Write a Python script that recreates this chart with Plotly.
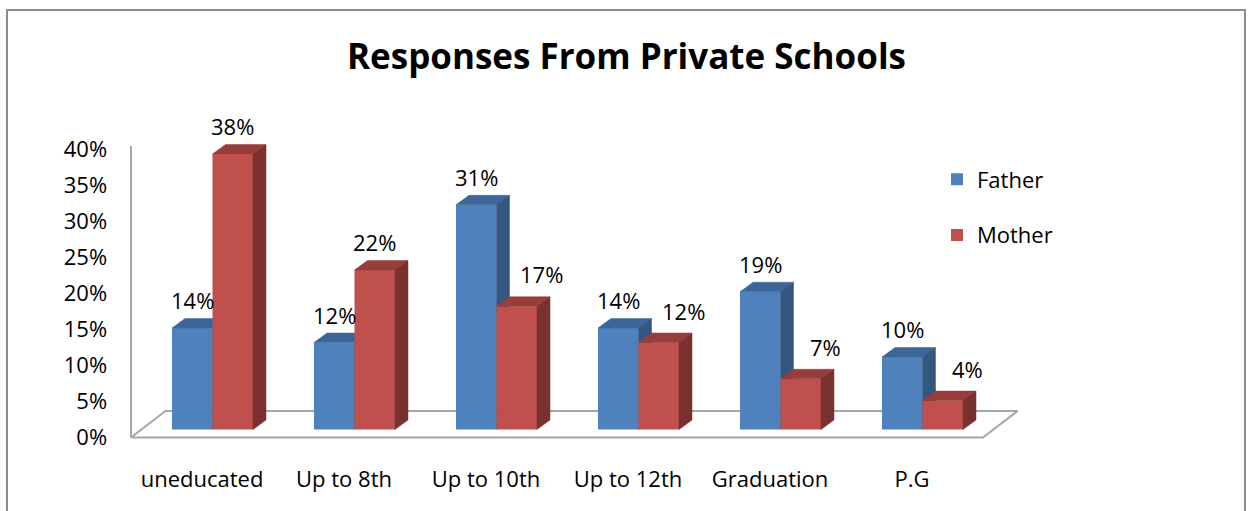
import plotly.graph_objects as go

# ---- data -------------------------------------------------------------
categories = ["uneducated", "Up to 8th", "Up to 10th", "Up to 12th", "Graduation", "P.G"]
father = [0.14, 0.12, 0.31, 0.14, 0.19, 0.10]
mother = [0.38, 0.22, 0.17, 0.12, 0.07, 0.04]
y_ticks = [0.00, 0.05, 0.10, 0.15, 0.20, 0.25, 0.30, 0.35, 0.40]
y_tick_labels = ["0%", "5%", "10%", "15%", "20%", "25%", "30%", "35%", "40%"]
series_names = ["Father", "Mother"]

# ---- styling ----------------------------------------------------------
FONT = "Open Sans"
FRONT = {"Father": "#4F81BD", "Mother": "#C0504D"}
TOP = {"Father": "#3D6698", "Mother": "#973D3B"}
SIDE = {"Father": "#34577F", "Mother": "#79302E"}
FLOOR_COLOR = "#A6A6A6"

W, H = 1249, 511


def px(x):
    return x / W


def py(y):
    return 1 - y / H


# front plane of the category axis (pixels)
CAT_LEFT, CAT_W = 131, 142
FRONT_ZERO, FRONT_SCALE = 437.5, 720.0     # pixel of 0 %, pixels per 100 %
# bars stand a little deeper inside the floor
BAR_SHIFT_X, BAR_ZERO, BAR_SCALE = 10.5, 429.5, 725.0
BAR_W = 40.5 / CAT_W                        # one bar, category units
DEPTH_X, DEPTH_Y = 13 / CAT_W, 9.5 / BAR_SCALE
FLOOR_DX, FLOOR_DY = 34.5 / CAT_W, 26.5 / FRONT_SCALE

X_RANGE = [-0.56, 5.8]
Y_RANGE = [-0.02, 0.41]
YB_RANGE = [-0.01, 0.45]

LABEL_LIFT = 28              # label centre above the bar's front top edge (px)
SIDE_LABEL_SHIFT = (25, 32)  # labels moved clear of a taller neighbouring bar


def x_domain(shift):
    return [px(CAT_LEFT + shift + (X_RANGE[0] + 0.5) * CAT_W),
            px(CAT_LEFT + shift + (X_RANGE[1] + 0.5) * CAT_W)]


def y_domain(zero, scale, rng):
    return [py(zero - rng[0] * scale), py(zero - rng[1] * scale)]


fig = go.Figure()
xs = list(range(len(categories)))

# floor outline and the value-axis line
fig.add_trace(go.Scatter(
    x=[-0.5, 5.5, 5.5 + FLOOR_DX, -0.5 + FLOOR_DX, -0.5],
    y=[0, 0, FLOOR_DY, FLOOR_DY, 0],
    mode="lines", line=dict(color=FLOOR_COLOR, width=2),
    hoverinfo="skip", showlegend=False, xaxis="x", yaxis="y"))
fig.add_trace(go.Scatter(
    x=[-0.5, -0.5], y=[0, 0.405], mode="lines",
    line=dict(color=FLOOR_COLOR, width=2),
    hoverinfo="skip", showlegend=False, xaxis="x", yaxis="y"))

annotations = []
for k, (name, values) in enumerate(zip(series_names, [father, mother])):
    xa, ya = f"x{k + 2}", f"y{k + 2}"
    offset = -BAR_W if k == 0 else 0.0
    fig.add_trace(go.Bar(
        name=name, x=xs, y=values, width=BAR_W, offset=offset,
        marker=dict(color=FRONT[name], line=dict(width=0)),
        xaxis=xa, yaxis=ya, legendgroup=name, hoverinfo="x+y"))

    top_x, top_y, side_x, side_y = [], [], [], []
    for i, v in zip(xs, values):
        xl = i + offset
        xr = xl + BAR_W
        top_x += [xl, xr, xr + DEPTH_X, xl + DEPTH_X, xl, None]
        top_y += [v, v, v + DEPTH_Y, v + DEPTH_Y, v, None]
        side_x += [xr, xr, xr + DEPTH_X, xr + DEPTH_X, xr, None]
        side_y += [0, v, v + DEPTH_Y, DEPTH_Y, 0, None]
        # a Mother label next to a taller Father bar is nudged to the right
        nudged = k == 1 and v < father[i]
        annotations.append(dict(
            x=xl + BAR_W / 2, y=v, xref=xa, yref=ya, text=f"{round(v * 100)}%",
            showarrow=False, yanchor="middle",
            xshift=SIDE_LABEL_SHIFT[0] if nudged else 0,
            yshift=SIDE_LABEL_SHIFT[1] if nudged else LABEL_LIFT,
            font=dict(family=FONT, size=22, color="#000000")))
    for fx, fy, col in [(top_x, top_y, TOP[name]), (side_x, side_y, SIDE[name])]:
        fig.add_trace(go.Scatter(
            x=fx, y=fy, mode="lines", fill="toself", fillcolor=col,
            line=dict(color=col, width=0.5), hoverinfo="skip",
            showlegend=False, xaxis=xa, yaxis=ya))

# independent (non-overlaying) axes so that the bar planes keep their own domains
bar_x = dict(visible=False, range=X_RANGE, domain=x_domain(BAR_SHIFT_X),
             fixedrange=True, automargin=False)
bar_y = dict(visible=False, range=YB_RANGE, automargin=False,
             domain=y_domain(BAR_ZERO, BAR_SCALE, YB_RANGE), fixedrange=True)

fig.update_layout(
    width=W, height=H,
    margin=dict(l=0, r=0, t=0, b=0, pad=0, autoexpand=False),
    paper_bgcolor="white", plot_bgcolor="rgba(0,0,0,0)",
    font=dict(family=FONT, size=22, color="#000000"),
    barmode="overlay",
    title=dict(text="Responses From Private Schools", x=0.5016, xanchor="center",
               y=py(57), yanchor="middle", automargin=False,
               font=dict(family=FONT, size=35, weight="bold", color="#000000")),
    xaxis=dict(range=X_RANGE, domain=x_domain(0), tickvals=xs, ticktext=categories,
               showgrid=False, zeroline=False, showline=False, automargin=False,
               ticks="outside", ticklen=8, tickcolor="rgba(0,0,0,0)", fixedrange=True),
    yaxis=dict(range=Y_RANGE, domain=y_domain(FRONT_ZERO, FRONT_SCALE, Y_RANGE),
               tickvals=y_ticks, ticktext=y_tick_labels, automargin=False,
               showgrid=False, zeroline=False, showline=False,
               ticks="outside", ticklen=10, tickcolor="rgba(0,0,0,0)", fixedrange=True),
    xaxis2=dict(bar_x, anchor="y2"),
    yaxis2=dict(bar_y, anchor="x2"),
    xaxis3=dict(bar_x, anchor="y3"),
    yaxis3=dict(bar_y, anchor="x3"),
    legend=dict(x=px(937), y=py(158.5), xanchor="left", yanchor="top",
                traceorder="grouped", tracegroupgap=24,
                font=dict(family=FONT, size=22), bgcolor="rgba(0,0,0,0)"),
    annotations=annotations,
    shapes=[dict(type="rect", xref="paper", yref="paper",
                 x0=px(7), x1=px(1245), y0=-0.2, y1=py(10),
                 line=dict(color="#8C8C8C", width=2), fillcolor="rgba(0,0,0,0)")],
)

fig.write_html("out.html")
